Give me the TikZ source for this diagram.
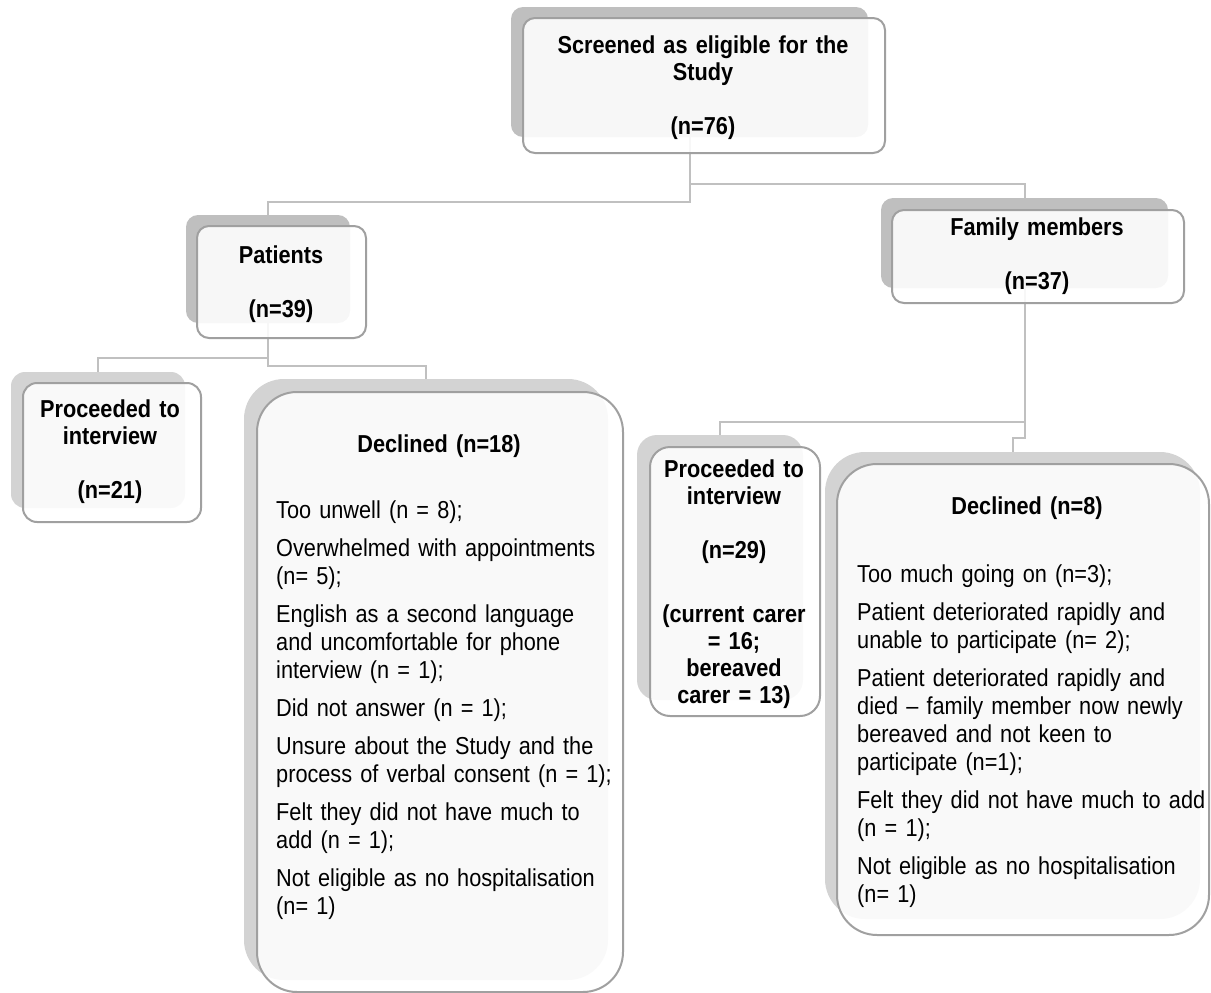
\documentclass[tikz,border=0pt]{standalone}
\usepackage{fontspec}
\setmainfont{Liberation Sans}[FakeStretch=0.886]
\usetikzlibrary{fit,backgrounds}

\definecolor{shadeA}{RGB}{191,191,191}
\definecolor{shadeB}{RGB}{211,211,211}
\definecolor{rim}{RGB}{160,160,160}
\definecolor{wire}{RGB}{192,192,192}

\tikzset{
  backbox/.style={fill=#1, draw=none, inner sep=0pt},
  frontbox/.style={draw=rim, line width=2pt, fill=white, fill opacity=0.88, inner sep=0pt},
  conn/.style={draw=wire, line width=2pt},
  headtext/.style={font=\fontsize{24.5}{27}\selectfont\bfseries, align=center,
                   text width=#1, inner sep=0pt, anchor=base},
  bodytext/.style={font=\fontsize{24.5}{28}\selectfont, align=left,
                   text width=#1, inner sep=0pt, anchor=base west},
}

\begin{document}
\begin{tikzpicture}[x=1pt,y=-1pt]
\useasboundingbox (0,0) rectangle (1211,993);

% back plates
\node[backbox=shadeA, rounded corners=12pt, fit={(511,7) (868,137)}] (topB) {};
\node[backbox=shadeA, rounded corners=12pt, fit={(186,215) (350,323)}] (patB) {};
\node[backbox=shadeA, rounded corners=12pt, fit={(881,198) (1168,288)}] (famB) {};
\node[backbox=shadeB, rounded corners=14pt, fit={(11,372) (185,508)}] (lpB) {};
\node[backbox=shadeB, rounded corners=40pt, fit={(244,379) (608,980)}] (ldB) {};
\node[backbox=shadeB, rounded corners=20pt, fit={(637,435) (803,700)}] (mpB) {};
\node[backbox=shadeB, rounded corners=40pt, fit={(825,452) (1200,919)}] (rdB) {};

% elbow connectors, kept behind the cards
\begin{scope}[on background layer]
\draw[conn] (topB.south) -- (topB.south |- 0,202) -| (patB.north);
\draw[conn] (topB.south) -- (topB.south |- 0,184) -| (famB.north);
\draw[conn] (patB.south) -- (patB.south |- 0,358) -| (lpB.north);
\draw[conn] (patB.south) -- (patB.south |- 0,366) -| (ldB.north);
\draw[conn] (famB.south) -- (famB.south |- 0,422) -| (mpB.north);
\draw[conn] (famB.south) -- (famB.south |- 0,438) -| (rdB.north);
\end{scope}

% front cards
\node[frontbox, rounded corners=12pt, fit={(523,18) (885,153)}] (top) {};
\node[frontbox, rounded corners=12pt, fit={(197,226) (366,338)}] (pat) {};
\node[frontbox, rounded corners=12pt, fit={(892,210) (1184,303)}] (fam) {};
\node[frontbox, rounded corners=14pt, fit={(23,383) (201,522)}] (lp) {};
\node[frontbox, rounded corners=40pt, fit={(257,392) (623,992)}] (ld) {};
\node[frontbox, rounded corners=20pt, fit={(650,447) (820,716)}] (mp) {};
\node[frontbox, rounded corners=40pt, fit={(837,464) (1209,935)}] (rd) {};

% texts
\node[headtext=340pt] (topT) at (703,53) {Screened as eligible for the\\Study\\[27pt](n=76)};
\node[headtext=160pt] (patT) at (281,263) {Patients\\[27pt](n=39)};
\node[headtext=280pt] (famT) at (1037,235) {Family members\\[27pt](n=37)};
\node[headtext=170pt] (lpT) at (110,417) {Proceeded to\\interview\\[27pt](n=21)};
\node[headtext=170pt] (mpT) at (734,477) {Proceeded to\\interview\\[27pt](n=29)\\[37pt](current carer\\= 16;\\bereaved\\carer = 13)};
\node[headtext=340pt] (ldT) at (439,452) {Declined (n=18)};
\node[headtext=340pt] (rdT) at (1027,514) {Declined (n=8)};

\node[bodytext=340pt] (ldL) at (276,518) {Too unwell (n = 8);\\[10pt]
Overwhelmed with appointments\\(n= 5);\\[10pt]
English as a second language\\and uncomfortable for phone\\interview (n = 1);\\[10pt]
Did not answer (n = 1);\\[10pt]
Unsure about the Study and the\\process of verbal consent (n = 1);\\[10pt]
Felt they did not have much to\\add (n = 1);\\[10pt]
Not eligible as no hospitalisation\\(n= 1)};

\node[bodytext=360pt] (rdL) at (857,582) {Too much going on (n=3);\\[10pt]
Patient deteriorated rapidly and\\unable to participate (n= 2);\\[10pt]
Patient deteriorated rapidly and\\died – family member now newly\\bereaved and not keen to\\participate (n=1);\\[10pt]
Felt they did not have much to add\\(n = 1);\\[10pt]
Not eligible as no hospitalisation\\(n= 1)};
\end{tikzpicture}
\end{document}
